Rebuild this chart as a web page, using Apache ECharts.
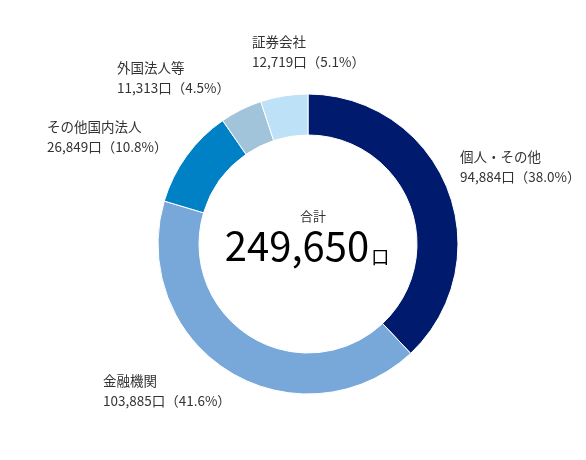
<!DOCTYPE html>
<html><head><meta charset="utf-8">
<script src="https://cdn.jsdelivr.net/npm/echarts@6/dist/echarts.min.js"></script>
<style>html,body{margin:0;padding:0;background:#fff}#c{width:586px;height:460px}</style>
</head><body><div id="c"></div>
<script>
const categories = ['個人・その他', '金融機関', 'その他国内法人', '外国法人等', '証券会社'];
const values = [94884, 103885, 26849, 11313, 12719];
const colors = ['#001b6d', '#78a8da', '#0081c6', '#a2c4db', '#bde1f6'];
const totalLabel = '合計';
const unit = '口';
// label anchor positions (top-left of label block)
const labelPos = [[460, 147], [103, 371], [47, 117], [117, 58], [252, 32]];

const total = values.reduce((a, b) => a + b, 0);
const fmt = n => n.toLocaleString('en-US');
const FONT = '"Noto Sans CJK JP", "Noto Sans", sans-serif';

const chart = echarts.init(document.getElementById('c'), null, {renderer: 'canvas'});
chart.setOption({
  animation: false,
  textStyle: {fontFamily: FONT},
  title: {
    text: totalLabel,
    left: 308, top: 205, textAlign: 'center',
    textStyle: {fontSize: 13, fontWeight: 'normal', color: '#333', fontFamily: FONT}
  },
  graphic: [{
    type: 'text', x: 307, y: 266,
    style: {
      text: '{n|' + fmt(total) + '}{u|' + unit + '}',
      align: 'center',
      verticalAlign: 'bottom',
      rich: {
        n: {fontSize: 40, color: '#333', fontFamily: FONT, verticalAlign: 'bottom', lineHeight: 40},
        u: {fontSize: 18, color: '#333', fontFamily: FONT, verticalAlign: 'bottom', lineHeight: 18, padding: [0, 0, 0, 2]}
      }
    }
  }],
  series: [{
    type: 'pie',
    center: [308, 244],
    radius: [109, 150],
    startAngle: 90,
    clockwise: true,
    itemStyle: {borderColor: '#fff', borderWidth: 1},
    labelLine: {show: false},
    label: {
      show: true,
      position: 'outside',
      color: '#333',
      fontSize: 13.5,
      lineHeight: 20,
      fontFamily: FONT,
      align: 'left',
      overflow: 'none',
      formatter: p => p.name + '\n' + fmt(p.value) + unit + '（' + p.percent.toFixed(1) + '%）'
    },
    labelLayout: p => ({x: labelPos[p.dataIndex][0], y: labelPos[p.dataIndex][1], align: 'left', verticalAlign: 'top', width: 200}),
    emphasis: {disabled: true},
    data: categories.map((c, i) => ({name: c, value: values[i], itemStyle: {color: colors[i]}}))
  }]
});
</script></body></html>
